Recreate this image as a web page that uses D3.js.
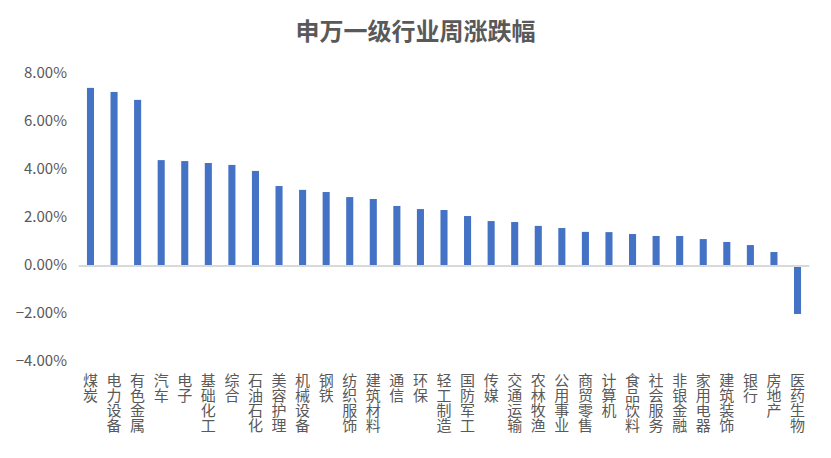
<!DOCTYPE html>
<html>
<head>
<meta charset="utf-8">
<script src="https://cdn.jsdelivr.net/npm/d3@7"></script>
<style>
  html, body { margin: 0; padding: 0; background: #fff; }
  #chart { width: 831px; height: 458px; }
</style>
</head>
<body>
<div id="chart"></div>
<script>
// --- Data ---
var title = '申万一级行业周涨跌幅';

var industries = [
  '煤炭', '电力设备', '有色金属', '汽车', '电子', '基础化工', '综合', '石油石化',
  '美容护理', '机械设备', '钢铁', '纺织服饰', '建筑材料', '通信', '环保', '轻工制造',
  '国防军工', '传媒', '交通运输', '农林牧渔', '公用事业', '商贸零售', '计算机',
  '食品饮料', '社会服务', '非银金融', '家用电器', '建筑装饰', '银行', '房地产', '医药生物'
];

// weekly change, percent
var weeklyChange = [
  7.38, 7.21, 6.88, 4.37, 4.33, 4.25, 4.17, 3.92,
  3.29, 3.13, 3.04, 2.83, 2.75, 2.46, 2.33, 2.29,
  2.04, 1.83, 1.79, 1.63, 1.54, 1.38, 1.37,
  1.29, 1.21, 1.21, 1.08, 0.96, 0.83, 0.54, -2.04
];

var yTicks = [-4, -2, 0, 2, 4, 6, 8];

// --- Layout ---
var width = 831, height = 458;
var plot = { left: 78.7, right: 809.3, top: 73, bottom: 361 };

var c = {
  bar: '#4472C4',
  axis: '#D9D9D9',
  text: '#595959'
};
var fontFamily = '"Noto Sans CJK SC", "Microsoft YaHei", sans-serif';

var svg = d3.select('#chart')
  .append('svg')
  .attr('width', width)
  .attr('height', height)
  .attr('viewBox', '0 0 ' + width + ' ' + height);

var x = d3.scaleBand()
  .domain(industries)
  .range([plot.left, plot.right])
  .paddingInner(0.7)
  .paddingOuter(0.35);

var y = d3.scaleLinear()
  .domain([d3.min(yTicks), d3.max(yTicks)])
  .range([plot.bottom, plot.top]);

// Title
svg.append('text')
  .attr('x', width / 2)
  .attr('y', 40)
  .attr('text-anchor', 'middle')
  .attr('font-family', fontFamily)
  .attr('font-size', '24px')
  .attr('font-weight', 'bold')
  .attr('fill', c.text)
  .text(title);

// Y axis labels (no line, no ticks)
var yAxis = d3.axisLeft(y)
  .tickValues(yTicks)
  .tickSize(0)
  .tickPadding(0)
  .tickFormat(function (d) { return d3.format('.2f')(d) + '%'; });

var yG = svg.append('g')
  .attr('transform', 'translate(67,0)')
  .call(yAxis);
yG.select('.domain').remove();
yG.selectAll('text')
  .attr('font-family', fontFamily)
  .attr('font-size', '15px')
  .attr('fill', c.text);

// Bars
svg.append('g')
  .selectAll('rect')
  .data(weeklyChange)
  .join('rect')
  .attr('x', function (d, i) { return x(industries[i]); })
  .attr('width', x.bandwidth())
  .attr('y', function (d) { return y(Math.max(0, d)); })
  .attr('height', function (d) { return Math.abs(y(d) - y(0)); })
  .attr('fill', c.bar);

// Zero line
svg.append('line')
  .attr('x1', plot.left)
  .attr('x2', plot.right)
  .attr('y1', y(0) + 1)
  .attr('y2', y(0) + 1)
  .attr('stroke', c.axis)
  .attr('stroke-width', 2);

// Category labels, stacked vertically one character per line
var labelTop = 379;
var charStep = 15.3;
var labels = svg.append('g')
  .selectAll('g')
  .data(industries)
  .join('g')
  .attr('transform', function (d) {
    return 'translate(' + (x(d) + x.bandwidth() / 2) + ',0)';
  });

labels.selectAll('text')
  .data(function (d) { return Array.from(d); })
  .join('text')
  .attr('x', 0)
  .attr('y', function (ch, i) { return labelTop + i * charStep; })
  .attr('dominant-baseline', 'central')
  .attr('text-anchor', 'middle')
  .attr('font-family', fontFamily)
  .attr('font-size', '15px')
  .attr('fill', c.text)
  .text(function (ch) { return ch; });
</script>
</body>
</html>
